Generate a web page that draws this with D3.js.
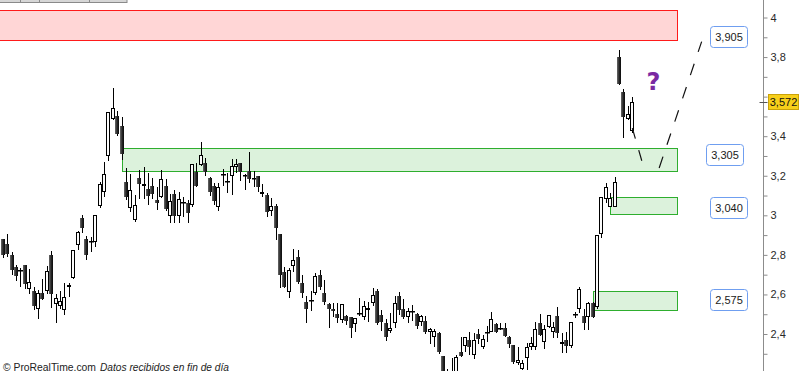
<!DOCTYPE html>
<html><head><meta charset="utf-8">
<script src="https://cdn.jsdelivr.net/npm/d3@7"></script>
<style>
html,body{margin:0;padding:0;background:#fff;overflow:hidden}
svg{display:block}
</style></head><body>
<svg id="c" width="800" height="371"></svg>
<script>
// ---- data ----
const opens = [2.880,2.855,2.799,2.740,2.722,2.749,2.626,2.619,2.525,2.609,2.617,2.799,2.550,2.541,2.521,2.636,2.685,2.848,2.985,2.879,
2.870,2.867,3.045,3.116,3.300,3.487,3.502,3.452,3.168,3.035,2.976,3.190,3.147,3.133,3.148,3.077,3.094,3.148,2.998,3.106,
2.997,3.067,3.064,3.052,3.220,3.254,3.266,3.190,3.148,3.044,3.207,3.175,3.200,3.246,3.263,3.204,3.226,3.190,3.199,3.106,
3.103,3.022,3.047,2.906,2.712,2.614,2.744,2.791,2.656,2.563,2.572,2.606,2.698,2.606,2.550,2.525,2.500,2.471,2.491,2.484,
2.449,2.508,2.487,2.521,2.555,2.617,2.496,2.454,2.415,2.454,2.592,2.525,2.484,2.514,2.500,2.459,2.466,2.409,2.386,2.406,
2.289,2.210,2.180,2.200,2.309,2.341,2.370,2.294,2.400,2.336,2.409,2.409,2.450,2.432,2.429,2.386,2.344,2.255,2.223,2.277,
2.336,2.336,2.457,2.361,2.437,2.409,2.491,2.348,2.370,2.339,2.501,2.525,2.491,2.487,2.555,2.535,2.904,3.080,3.044,3.044,
3.799,3.625,3.485,3.428];
const highs = [2.880,2.906,2.816,2.749,2.735,2.749,2.729,2.636,2.622,2.676,2.744,2.821,2.602,2.619,2.656,2.656,2.825,2.922,3.002,2.895,
2.892,3.002,3.168,3.270,3.524,3.642,3.527,3.496,3.239,3.209,3.103,3.229,3.244,3.212,3.187,3.145,3.229,3.182,3.106,3.128,
3.119,3.094,3.077,3.259,3.263,3.372,3.288,3.195,3.165,3.165,3.233,3.212,3.283,3.283,3.263,3.207,3.319,3.226,3.199,3.158,
3.111,3.086,3.056,2.906,2.740,2.732,2.828,2.825,2.698,2.592,2.619,2.707,2.724,2.673,2.555,2.555,2.555,2.550,2.496,2.484,
2.482,2.580,2.567,2.563,2.631,2.627,2.521,2.474,2.508,2.592,2.614,2.575,2.530,2.547,2.505,2.496,2.491,2.432,2.424,2.412,
2.289,2.223,2.277,2.294,2.386,2.386,2.412,2.406,2.424,2.393,2.440,2.513,2.457,2.454,2.454,2.390,2.344,2.336,2.268,2.353,
2.386,2.462,2.500,2.445,2.496,2.462,2.538,2.403,2.409,2.459,2.513,2.639,2.525,2.563,2.563,2.900,3.091,3.162,3.111,3.192,
3.836,3.637,3.553,3.597];
const lows = [2.784,2.791,2.698,2.669,2.639,2.626,2.602,2.521,2.474,2.572,2.602,2.533,2.454,2.525,2.496,2.585,2.676,2.825,2.909,2.774,
2.816,2.841,3.035,3.093,3.275,3.484,3.401,3.280,3.077,3.018,2.968,3.084,3.080,3.051,3.081,3.027,3.086,3.024,2.960,2.960,
2.960,2.993,2.960,3.042,3.143,3.249,3.199,3.098,3.052,3.023,3.148,3.111,3.103,3.212,3.175,3.128,3.162,3.145,3.119,3.094,
2.990,2.998,2.875,2.631,2.633,2.580,2.715,2.653,2.580,2.457,2.518,2.597,2.622,2.547,2.432,2.484,2.454,2.457,2.445,2.381,
2.412,2.491,2.471,2.462,2.543,2.445,2.415,2.366,2.403,2.429,2.496,2.474,2.454,2.467,2.424,2.440,2.398,2.349,2.336,2.297,
2.142,2.150,2.160,2.180,2.285,2.309,2.294,2.274,2.348,2.323,2.361,2.408,2.403,2.420,2.386,2.328,2.248,2.243,2.218,2.218,
2.319,2.319,2.390,2.324,2.430,2.378,2.378,2.302,2.302,2.328,2.479,2.508,2.420,2.420,2.481,2.526,2.884,3.061,3.042,3.044,
3.659,3.389,3.482,3.415];
const closes = [2.799,2.803,2.724,2.695,2.720,2.651,2.663,2.543,2.606,2.577,2.718,2.602,2.580,2.567,2.585,2.646,2.825,2.917,2.934,2.799,
2.863,3.002,3.158,3.207,3.524,3.544,3.410,3.310,3.094,3.128,3.050,3.157,3.157,3.099,3.106,3.064,3.182,3.032,3.072,2.997,
3.081,3.064,3.010,3.259,3.148,3.305,3.220,3.119,3.074,3.142,3.206,3.173,3.249,3.258,3.217,3.197,3.185,3.185,3.145,3.116,
3.018,3.047,2.937,2.698,2.639,2.724,2.774,2.664,2.606,2.525,2.569,2.693,2.636,2.560,2.526,2.518,2.479,2.550,2.467,2.429,
2.482,2.506,2.541,2.530,2.597,2.454,2.462,2.383,2.429,2.555,2.521,2.487,2.516,2.511,2.440,2.491,2.412,2.424,2.415,2.310,
2.167,2.170,2.215,2.282,2.290,2.383,2.333,2.370,2.375,2.373,2.407,2.474,2.409,2.430,2.391,2.349,2.260,2.268,2.252,2.333,
2.353,2.424,2.395,2.424,2.496,2.434,2.406,2.361,2.341,2.459,2.500,2.627,2.457,2.555,2.487,2.900,3.091,3.141,3.086,3.170,
3.662,3.499,3.511,3.572];

const majorTicks = [2.4,2.6,2.8,3.0,3.2,3.4,3.6,3.8,4.0];
const minorTicks = [2.3,2.5,2.7,2.9,3.1,3.3,3.5,3.7,3.9];

const zoneTops    = [4.038, 3.340, 3.092, 2.617];
const zoneBottoms = [3.886, 3.224, 3.005, 2.520];
const zoneStarts  = [-1, 27, 138, 134];      // candle index where each zone begins
const zoneEnd     = 153.1;                   // candle index where zones end
const zoneKinds   = ["res","sup","sup","sup"];

const targetValues = [3.905, 3.305, 3.040, 2.575];
const targetTexts  = ["3,905","3,305","3,040","2,575"];

const lastPrice = 3.572;
const lastText = "3,572";

const pathDown = [[143, 3.441],[145.9, 3.219]];
const pathUp   = [[149.1, 3.239],[158.75, 3.878]];
const questionAt = [147.8, 3.633];

const footerSource = "© ProRealTime.com";
const footerNote = "Datos recibidos en fin de día";

// ---- layout ----
const W = 800, H = 371;
const axisX = 763.5;
const labelBoxLeft = [710, 706, 710, 710];
const FONT = "'Liberation Sans', Arial, sans-serif";

const svg = d3.select("#c");
const x = d3.scaleLinear().domain([0, 143]).range([2.7, 632.3]);
const y = d3.scaleLinear().domain([2.4, 4]).range([334, 17.5]);

const defs = svg.append("defs");
const grad = defs.append("linearGradient").attr("id","blk").attr("x1","0").attr("x2","1").attr("y1","0").attr("y2","0");
grad.append("stop").attr("offset","0").attr("stop-color","#6a6a6a");
grad.append("stop").attr("offset","0.55").attr("stop-color","#262626");
grad.append("stop").attr("offset","1").attr("stop-color","#0a0a0a");

// toolbar fragment top-left
const tb = svg.append("g");
tb.append("rect").attr("x",-1).attr("y",-2).attr("width",128).attr("height",4.5)
  .attr("fill","#d6d6d6").attr("stroke","#8a8a8a").attr("stroke-width",1);
[20,39,89].forEach(d => tb.append("line").attr("x1",d+0.5).attr("x2",d+0.5).attr("y1",0).attr("y2",3).attr("stroke","#8a8a8a"));

// zones
const zg = svg.append("g");
zoneTops.forEach((t,i) => {
  const x0 = Math.round(x(zoneStarts[i])) + 0.5;
  const x1 = Math.round(x(zoneEnd)) + 0.5;
  const y0 = Math.round(y(t)) + 0.5;
  const y1 = Math.round(y(zoneBottoms[i])) + 0.5;
  const res = zoneKinds[i] === "res";
  zg.append("rect").attr("x", x0).attr("y", y0).attr("width", x1 - x0).attr("height", y1 - y0)
    .attr("fill", res ? "#ffd6d6" : "#dcf2dc")
    .attr("stroke", res ? "#ff1a1a" : "#2eae2e").attr("stroke-width", 1);
});

// candles
const cg = svg.append("g");
opens.forEach((o, i) => {
  const k = Math.round(x(i));
  const cx = k + 0.5;
  const c = closes[i];
  const yO = y(o), yC = y(c);
  cg.append("line").attr("x1",cx).attr("x2",cx)
    .attr("y1", Math.round(y(highs[i]))).attr("y2", Math.round(y(lows[i])))
    .attr("stroke","#000").attr("stroke-width",1);
  const top = Math.round(Math.min(yO,yC)), bot = Math.round(Math.max(yO,yC));
  if (bot - top < 2) {
    cg.append("rect").attr("x", k-2).attr("y", top).attr("width", 5).attr("height", 1.5).attr("fill","#000");
  } else if (c >= o) {
    cg.append("rect").attr("x", k-1.5).attr("y", top+0.5).attr("width", 3).attr("height", bot-top-1)
      .attr("fill","#fbfbfb").attr("stroke","#000").attr("stroke-width",1);
  } else {
    cg.append("rect").attr("x", k-2).attr("y", top).attr("width", 4).attr("height", bot-top)
      .attr("fill","url(#blk)");
  }
});

// projection dashed lines
const line = d3.line().x(d => x(d[0])).y(d => y(d[1]));
svg.append("path").attr("d", line(pathDown)).attr("fill","none").attr("stroke","#111")
  .attr("stroke-width",1.2).attr("stroke-dasharray","11,12");
svg.append("path").attr("d", line(pathUp)).attr("fill","none").attr("stroke","#111")
  .attr("stroke-width",1.2).attr("stroke-dasharray","12,12.5");

// question mark
svg.append("text").attr("x", x(questionAt[0])).attr("y", y(questionAt[1]))
  .attr("text-anchor","middle").attr("font-family","'DejaVu Sans', sans-serif").attr("font-weight","bold")
  .attr("font-size",24).attr("fill","#7a2aa2").text("?");

// target labels
const lg = svg.append("g");
targetValues.forEach((v,i) => {
  const cy = y(v);
  const bx = labelBoxLeft[i] + 0.5, by = Math.round(cy - 10.5) + 0.5;
  lg.append("rect").attr("x", bx).attr("y", by).attr("width", 37).attr("height", 21).attr("rx", 3)
    .attr("fill","#fff").attr("stroke","#6f9ef0").attr("stroke-width",1);
  lg.append("text").attr("x", bx + 18.5).attr("y", by + 14.5).attr("text-anchor","middle")
    .attr("font-family", FONT).attr("font-size", 11).attr("fill","#1a1a1a").text(targetTexts[i]);
});

// right axis (labels hidden where the last-price tag covers them, as in the reference)
const ly = Math.round(y(lastPrice)) + 0.5;
const fmt = v => d3.format(".1f")(v).replace(/\.0$/,"").replace(".",",");
svg.append("line").attr("x1",axisX).attr("x2",axisX).attr("y1",0).attr("y2",H).attr("stroke","#8c8c8c");
const ax = svg.append("g").attr("transform",`translate(${axisX},0)`)
  .call(d3.axisRight(y).tickValues(majorTicks.concat(minorTicks)).tickSize(4).tickSizeOuter(0).tickPadding(3)
    .tickFormat(v => (majorTicks.some(m => Math.abs(m - v) < 1e-6) && Math.abs(y(v) - ly) > 12) ? fmt(v) : ""));
ax.select(".domain").remove();
ax.selectAll(".tick line").attr("stroke","#8c8c8c");
ax.selectAll(".tick text").attr("font-family", FONT).attr("font-size", 11).attr("fill","#2a2a2a");

// last price marker
svg.append("line").attr("x1", axisX - 4).attr("x2", axisX + 4).attr("y1", ly).attr("y2", ly).attr("stroke","#555");
svg.append("rect").attr("x", 768.5).attr("y", ly - 8).attr("width", 30).attr("height", 15)
  .attr("fill","#f7cf1a").attr("stroke","#caa20a").attr("stroke-width",1);
svg.append("text").attr("x", 783.5).attr("y", ly + 3.8).attr("text-anchor","middle")
  .attr("font-family", FONT).attr("font-size", 11).attr("fill","#111").text(lastText);

// footer
svg.append("text").attr("x", 3).attr("y", 371).attr("font-family", FONT).attr("font-size", 11)
  .attr("fill","#222").attr("textLength", 93).attr("lengthAdjust","spacingAndGlyphs").text(footerSource);
svg.append("text").attr("x", 100).attr("y", 371).attr("font-family", FONT).attr("font-size", 11)
  .attr("font-style","italic").attr("fill","#222").attr("textLength", 129).attr("lengthAdjust","spacingAndGlyphs").text(footerNote);
</script>
</body></html>
